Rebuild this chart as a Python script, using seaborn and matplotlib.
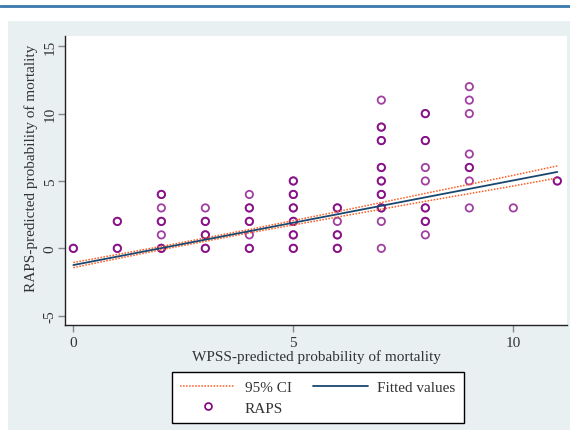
import matplotlib
matplotlib.use("Agg")
import matplotlib.pyplot as plt
import seaborn as sns
import numpy as np
import pandas as pd
from matplotlib.lines import Line2D
from matplotlib.patches import Rectangle

# observed scores (repeated pairs are overlapping observations)
wpss = [0, 0,
        1, 1, 1, 1,
        2, 2, 2, 2, 2, 2, 2, 2,
        3, 3, 3, 3, 3, 3, 3,
        4, 4, 4, 4, 4, 4, 4, 4,
        5, 5, 5, 5, 5, 5, 5, 5, 5, 5, 5, 5,
        6, 6, 6, 6, 6, 6, 6,
        7, 7, 7, 7, 7, 7, 7, 7, 7, 7, 7, 7, 7, 7, 7,
        8, 8, 8, 8, 8, 8, 8, 8, 8, 8, 8,
        9, 9, 9, 9, 9, 9, 9, 9,
        10,
        11, 11]
raps = [0, 0,
        0, 0, 2, 2,
        0, 0, 1, 2, 2, 3, 4, 4,
        0, 0, 1, 1, 2, 2, 3,
        0, 0, 1, 2, 2, 3, 3, 4,
        0, 0, 1, 1, 2, 2, 3, 3, 4, 4, 5, 5,
        0, 0, 1, 1, 2, 3, 3,
        0, 2, 3, 3, 4, 4, 5, 5, 6, 6, 8, 8, 9, 9, 11,
        1, 2, 2, 3, 3, 5, 6, 8, 8, 10, 10,
        3, 5, 6, 6, 7, 10, 11, 12,
        3,
        5, 5]

# fitted values and 95% CI
fit_x = [0, 11]
fit_y = [-1.24, 5.67]
ci_x = [0, 2, 4, 6, 8, 10, 11]
ci_upper = [-1.05, 0.14, 1.40, 2.72, 4.08, 5.42, 6.12]
ci_lower = [-1.43, -0.10, 1.15, 2.32, 3.49, 4.63, 5.22]

x_ticks = [0, 5, 10]
y_ticks = [-5, 0, 5, 10, 15]

sns.set_style("white")
plt.rcParams['font.family'] = ['Liberation Serif', 'DejaVu Serif']
plt.rcParams['axes.unicode_minus'] = False

purple = '#800080'
navy = '#1a476f'
orange = '#ff5a1f'
text_c = '#333333'
fs = 11

fig = plt.figure(figsize=(5.7, 4.31), dpi=100)
fig.patch.set_facecolor('white')
fig.patches.append(Rectangle((8 / 570, 0), 1 - 8 / 570, 1 - 22 / 431,
                             transform=fig.transFigure, facecolor='#e8f0f2',
                             edgecolor='none', zorder=-5))
fig.lines.append(Line2D([0, 1], [1 - 6.5 / 431] * 2, transform=fig.transFigure,
                        color='#3a78ae', linewidth=2, zorder=-5))

ax = fig.add_axes([65 / 570, 1 - 326 / 431, (567 - 65) / 570, (326 - 37) / 431])
ax.set_zorder(1)
ax.set_facecolor('white')

pts = pd.DataFrame({'wpss': wpss, 'raps': raps})
sns.scatterplot(data=pts, x='wpss', y='raps', ax=ax, marker='o', s=28,
                facecolors='none', edgecolor=purple, linewidth=1.3, alpha=0.75,
                zorder=3)

ci = pd.DataFrame({'x': ci_x, 'upper': ci_upper, 'lower': ci_lower})
sns.lineplot(data=ci, x='x', y='upper', ax=ax, color=orange, linewidth=1.1,
             linestyle=(0, (1, 1)), zorder=4)
sns.lineplot(data=ci, x='x', y='lower', ax=ax, color=orange, linewidth=1.1,
             linestyle=(0, (1, 1)), zorder=4)
fit = pd.DataFrame({'x': fit_x, 'y': fit_y})
sns.lineplot(data=fit, x='x', y='y', ax=ax, color=navy, linewidth=1.3, zorder=5)

ax.set_xlim(-0.19, 11.22)
ax.set_ylim(-5.69, 15.76)
ax.set_xticks(x_ticks)
ax.set_yticks(y_ticks)
for side in ['top', 'right']:
    ax.spines[side].set_visible(False)
for side in ['left', 'bottom']:
    ax.spines[side].set_color('#222222')
    ax.spines[side].set_linewidth(1.0)
ax.tick_params(axis='both', bottom=True, left=True, direction='out', length=5,
               width=1, color='#888888', labelsize=fs, labelcolor=text_c)
ax.tick_params(axis='x', pad=3)
ax.tick_params(axis='y', labelrotation=90, pad=1)
for lab in ax.get_yticklabels():
    lab.set_va('center')

ax.set_xlabel('WPSS-predicted probability of mortality', fontsize=fs,
              color=text_c, labelpad=0)
ax.set_ylabel('RAPS-predicted probability of mortality', fontsize=fs,
              color=text_c)
ax.yaxis.set_label_coords(-0.054, 0.545)

handles = [Line2D([], [], color=orange, linewidth=1.1, linestyle=(0, (1, 1))),
           Line2D([], [], marker='o', linestyle='none', markerfacecolor='none',
                  markeredgecolor=purple, markersize=5, markeredgewidth=1.2),
           Line2D([], [], color=navy, linewidth=1.3)]
labels = ['95% CI', 'RAPS', 'Fitted values']
leg = fig.legend(handles, labels, ncol=2, loc='upper left',
                 bbox_to_anchor=(172 / 570, 1 - 373 / 431),
                 fontsize=fs, frameon=True, fancybox=False, framealpha=1,
                 edgecolor='black', handlelength=3.6, handletextpad=0.6,
                 columnspacing=1.4, borderpad=0.55, labelspacing=0.45,
                 borderaxespad=0)
leg.get_frame().set_linewidth(1.0)
for t in leg.get_texts():
    t.set_color(text_c)

fig.savefig('out.png', dpi=100)
